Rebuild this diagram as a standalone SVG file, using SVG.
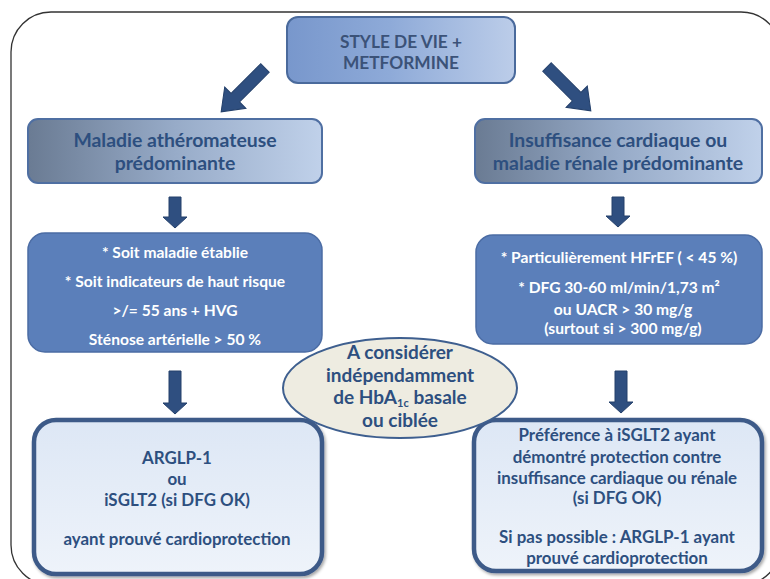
<svg xmlns="http://www.w3.org/2000/svg" width="770" height="579" viewBox="0 0 770 579">
<defs>
<linearGradient id="gTop" x1="0" y1="0" x2="1" y2="0">
<stop offset="0" stop-color="#7897cc"/>
<stop offset="0.45" stop-color="#8eaad8"/>
<stop offset="1" stop-color="#bccde9"/>
</linearGradient>
<linearGradient id="gMid" x1="0" y1="0" x2="1" y2="0">
<stop offset="0" stop-color="#6a7b93"/>
<stop offset="0.5" stop-color="#97abc8"/>
<stop offset="1" stop-color="#c0d1ea"/>
</linearGradient>
<linearGradient id="gLow" x1="0" y1="0" x2="0" y2="1">
<stop offset="0" stop-color="#dde7f5"/>
<stop offset="1" stop-color="#eef3fa"/>
</linearGradient>
<filter id="sh" x="-10%" y="-10%" width="125%" height="125%">
<feDropShadow dx="1.5" dy="2" stdDeviation="1.5" flood-color="#000" flood-opacity="0.35"/>
</filter>
</defs>
<style>
.frame{fill:none;stroke:#333;stroke-width:1.3}
.top{fill:url(#gTop);stroke:#4a6a9c;stroke-width:2}
.mid{fill:url(#gMid);stroke:#4f6fa2;stroke-width:2}
.blue{fill:#5b7fba;stroke:#4b6ca4;stroke-width:1.5}
.low{fill:url(#gLow);stroke:#3d5a88;stroke-width:4.5}
.ell{fill:#eeece1;stroke:#3e5f8f;stroke-width:2}
.arr{fill:#2f4f80;stroke:#24406b;stroke-width:1}
text{font-family:Lato,"Liberation Sans",sans-serif;font-weight:bold;text-anchor:middle}
.tt{fill:#3b5278;font-size:17.3px}
.mt{fill:#2d4f7f;font-size:19.4px}
.wt{fill:#ffffff;font-size:15.6px}
.et{fill:#2d4f7f;font-size:19px}
.lt{fill:#2d4f7f;font-size:16.9px}
</style>
<rect class="frame" x="11" y="12" width="770" height="573" rx="40"/>

<g id="connectors">
<polygon class="arr" transform="translate(265,68) rotate(135)" points="0,-6 42,-6 42,-15 62,0 42,15 42,6 0,6"/>
<polygon class="arr" transform="translate(547,67) rotate(45)" points="0,-6 42,-6 42,-15 62,0 42,15 42,6 0,6"/>
<polygon class="arr" points="169,197 181,197 181,217 187,217 175,228 163,217 169,217"/>
<polygon class="arr" points="612,197 624,197 624,216 630,216 618,227 606,216 612,216"/>
<polygon class="arr" points="169,371 181,371 181,403 187,403 175,414 163,403 169,403"/>
<polygon class="arr" points="615,371 627,371 627,402 633,402 621,413 609,402 615,402"/>
</g>

<g id="n-top">
<rect class="top" x="287" y="17" width="228" height="66" rx="11"/>
<text class="tt" x="401" y="48">STYLE DE VIE +</text>
<text class="tt" x="401" y="69">METFORMINE</text>
</g>

<g id="n-athero">
<rect class="mid" x="28" y="119" width="294" height="64" rx="10"/>
<text class="mt" x="175" y="147">Maladie athéromateuse</text>
<text class="mt" x="175" y="170">prédominante</text>
</g>

<g id="n-ic">
<rect class="mid" x="475" y="119" width="287" height="64" rx="10"/>
<text class="mt" x="618" y="147">Insuffisance cardiaque ou</text>
<text class="mt" x="618" y="170">maladie rénale prédominante</text>
</g>

<g id="n-crit-left">
<rect class="blue" x="28" y="233" width="294" height="119" rx="17"/>
<text class="wt" x="175" y="258">* Soit maladie établie</text>
<text class="wt" x="175" y="287">* Soit indicateurs de haut risque</text>
<text class="wt" x="175" y="316">&gt;/= 55 ans + HVG</text>
<text class="wt" x="175" y="345">Sténose artérielle &gt; 50 %</text>
</g>

<g id="n-crit-right">
<rect class="blue" x="476" y="235" width="286" height="109" rx="17"/>
<text class="wt" x="619" y="263">* Particulièrement HFrEF ( &lt; 45 %)</text>
<text class="wt" x="619" y="293">* DFG 30-60 ml/min/1,73 m²</text>
<text class="wt" x="623" y="315">ou UACR &gt; 30 mg/g</text>
<text class="wt" x="623" y="334">(surtout si &gt; 300 mg/g)</text>
</g>

<g id="n-treat-left">
<rect class="low" x="34" y="420" width="288" height="154" rx="22" filter="url(#sh)"/>
<text class="lt" x="177" y="464">ARGLP-1</text>
<text class="lt" x="177" y="485">ou</text>
<text class="lt" x="177" y="506">iSGLT2 (si DFG OK)</text>
<text class="lt" x="177" y="545">ayant prouvé cardioprotection</text>
</g>

<g id="n-treat-right">
<rect class="low" x="474" y="420" width="288" height="151" rx="22" filter="url(#sh)"/>
<text class="lt" x="617" y="441">Préférence à iSGLT2 ayant</text>
<text class="lt" x="617" y="463">démontré protection contre</text>
<text class="lt" x="617" y="484">insuffisance cardiaque ou rénale</text>
<text class="lt" x="617" y="504">(si DFG OK)</text>
<text class="lt" x="617" y="543">Si pas possible : ARGLP-1 ayant</text>
<text class="lt" x="617" y="564">prouvé cardioprotection</text>
</g>

<g id="n-note">
<ellipse class="ell" cx="400" cy="388" rx="117" ry="50"/>
<text class="et" x="400" y="359">A considérer</text>
<text class="et" x="400" y="382">indépendamment</text>
<text class="et" x="400" y="404">de HbA<tspan font-size="11" dy="3">1c</tspan><tspan dy="-3"> basale</tspan></text>
<text class="et" x="400" y="427">ou ciblée</text>
</g>
</svg>
